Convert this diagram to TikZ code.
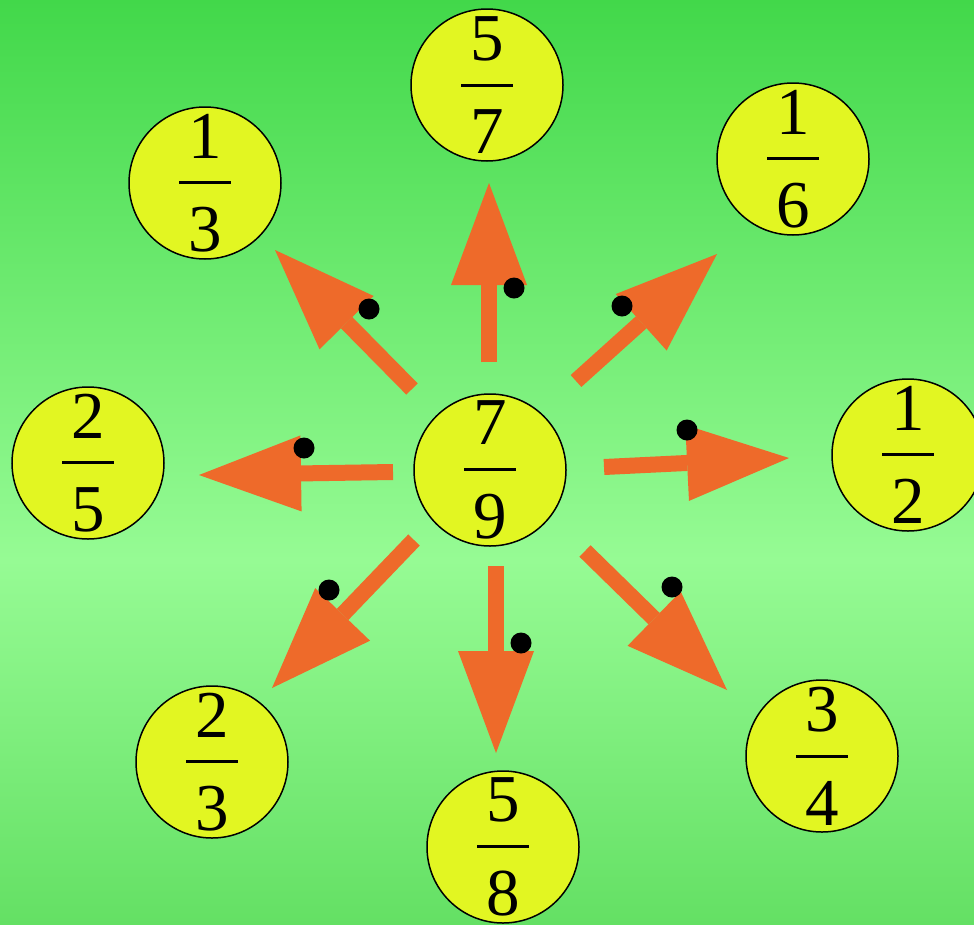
\documentclass[tikz,border=0pt]{standalone}
\usepackage{fontspec}
\setmainfont{Liberation Serif}
\usetikzlibrary{arrows.meta}
\definecolor{bgtop}{HTML}{42D84A}
\definecolor{bgmid}{HTML}{96FB94}
\definecolor{bgbot}{HTML}{64E064}
\definecolor{arrorange}{HTML}{EE6A2A}
\definecolor{discyellow}{HTML}{E2F622}
\pgfdeclareverticalshading{bgshade}{100bp}{color(0bp)=(bgbot); color(25bp)=(bgbot); color(44.7bp)=(bgmid); color(75bp)=(bgtop); color(100bp)=(bgtop)}
\newcommand\fr[2]{\vbox{\hbox to 52pt{\hss#1\hss}\kern23pt\hrule height 3pt\kern23pt\hbox to 52pt{\hss#2\hss}}}
\tikzset{
  disc/.style={circle, draw=black, line width=1.5pt, fill=discyellow, minimum size=152pt, inner sep=0pt, font=\fontsize{67}{67}\selectfont},
  bigarrow/.style={draw=arrorange, line width=16pt, -{Triangle[length=102pt,width=76pt,line width=0pt]}},
  blackdot/.style={circle, fill=black, minimum size=21pt, inner sep=0pt}
}
\begin{document}
\begin{tikzpicture}[x=1pt,y=-1pt]
\useasboundingbox (0,0) rectangle (974,924);
\shade[shading=bgshade] (0,0) rectangle (974,924);
% discs
\node[disc] (c79) at (490,470) {\fr{7}{9}};
\node[disc] (c57) at (487,85) {\fr{5}{7}};
\node[disc] (c16) at (793,159) {\fr{1}{6}};
\node[disc] (c13) at (205,183) {\fr{1}{3}};
\node[disc] (c25) at (88,463) {\fr{2}{5}};
\node[disc] (c12) at (908,455) {\fr{1}{2}};
\node[disc] (c23) at (212,762) {\fr{2}{3}};
\node[disc] (c58) at (503,847) {\fr{5}{8}};
\node[disc] (c34) at (822,756) {\fr{3}{4}};
% arrow ends
\coordinate (sU) at (489,362);  \coordinate (tU) at (489,183);
\coordinate (sUL) at (412,389); \coordinate (tUL) at (275,250);
\coordinate (sUR) at (576,381); \coordinate (tUR) at (717,254);
\coordinate (sR) at (604,467);  \coordinate (tR) at (789,458);
\coordinate (sL) at (393,472);  \coordinate (tL) at (199,475);
\coordinate (sDL) at (414,540); \coordinate (tDL) at (272,688);
\coordinate (sD) at (496,566);  \coordinate (tD) at (496,753);
\coordinate (sDR) at (585,551); \coordinate (tDR) at (727,690);
\foreach \a in {U,UL,UR,R,L,DL,D,DR}{\draw[bigarrow] (s\a) -- (t\a);}
% dots
\node[blackdot] (dUL) at (369,309) {};
\node[blackdot] (dU) at (514,288) {};
\node[blackdot] (dUR) at (622,306) {};
\node[blackdot] (dR) at (687,430) {};
\node[blackdot] (dL) at (304,448) {};
\node[blackdot] (dDL) at (329,590) {};
\node[blackdot] (dD) at (521,643) {};
\node[blackdot] (dDR) at (672,587) {};
\end{tikzpicture}
\end{document}
